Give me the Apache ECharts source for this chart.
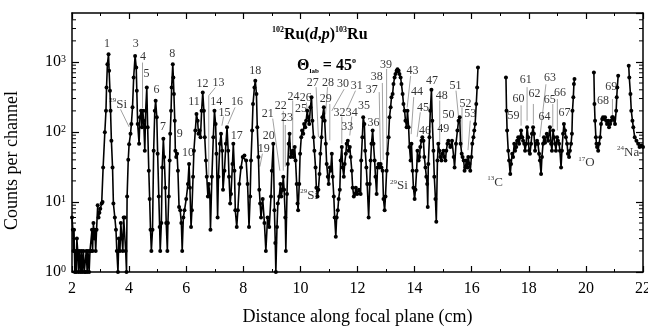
<!DOCTYPE html>
<html>
<head>
<meta charset="utf-8">
<script src="https://cdn.jsdelivr.net/npm/echarts@6/dist/echarts.min.js"></script>
<style>
  html, body { margin: 0; padding: 0; background: #fff; }
  #chart { width: 648px; height: 331px; }
</style>
</head>
<body>
<div id="chart"></div>
<script>
// spectrum: [distance (cm), counts]
const seg1 = [
  [2.00,6],[2.03,4],[2.05,2],[2.07,4],[2.10,1],[2.12,2],[2.15,1],[2.17,3],[2.20,2],[2.23,1],[2.26,2],[2.30,1],
  [2.33,2],[2.36,1],[2.40,2],[2.43,1],[2.47,1],[2.50,2],[2.53,1],[2.56,2],[2.60,1],[2.63,2],[2.66,2],[2.70,4],
  [2.72,2],[2.75,5],[2.78,3],[2.80,4],[2.83,2],[2.86,4],[2.90,9],[2.93,6],[2.96,7],[2.99,8],[3.04,9.5],[3.07,10],
  [3.09,31],[3.15,99],[3.19,201],[3.21,433],[3.24,930],[3.28,1290],[3.30,747],[3.33,388],[3.35,201],[3.38,75],
  [3.42,31],[3.45,9.5],[3.50,6],[3.54,4],[3.57,2],[3.61,1],[3.64,3],[3.68,2],[3.71,5],[3.75,3],[3.78,2],[3.81,6],
  [3.85,6],[3.88,2],[3.91,1],[3.93,12],[3.97,40],[4.00,67],[4.05,94],[4.08,130],[4.12,225],[4.16,600],[4.21,1220],
  [4.25,834],[4.27,388],[4.30,130],[4.35,68],[4.38,162],[4.42,201],[4.45,117],[4.48,201],[4.51,145],[4.55,54],
  [4.58,201],[4.62,433],[4.65,117],[4.69,28],[4.72,11],[4.75,4],[4.78,2],[4.82,4],[4.86,54],[4.90,201],[4.93,280],
  [4.97,162],[5.00,49],[5.04,12],[5.07,4.4],[5.09,2],[5.13,5],[5.16,31],[5.20,80],[5.23,44],[5.27,16],[5.30,5],
  [5.34,2],[5.36,5],[5.39,12],[5.42,39],[5.44,94],[5.47,201],[5.49,433],[5.53,930],[5.55,600],[5.57,348],[5.60,145],
  [5.62,54],[5.65,44],[5.68,49],[5.71,28],[5.75,8.5],[5.79,7.6],[5.83,5],[5.86,2],[5.90,6],[5.94,7.6],[6.00,11],
  [6.06,18],[6.10,35],[6.13,16],[6.17,4.4],[6.20,7.6],[6.24,23],[6.27,54],[6.32,105],[6.36,181],[6.40,145],[6.43,94],
  [6.47,105],[6.50,84],[6.54,201],[6.58,367],[6.62,201],[6.65,84],[6.69,39],[6.72,23],[6.76,12],[6.79,18],[6.83,12],
  [6.85,4],[6.90,23],[6.95,84],[6.99,201],[7.03,130],[7.06,49],[7.10,6],[7.13,23],[7.18,68],[7.22,94],[7.26,54],
  [7.29,15],[7.34,28],[7.39,68],[7.43,117],[7.47,54],[7.50,23],[7.54,9.5],[7.57,13],[7.62,35],[7.65,68],[7.69,28],
  [7.72,7.6],[7.77,4.4],[7.81,7.6],[7.86,18],[7.92,31],[7.98,44],[8.04,46],[8.10,39],[8.15,18],[8.20,4.4],[8.24,12],
  [8.27,39],[8.31,105],[8.34,251],[8.39,433],[8.42,538],[8.46,348],[8.49,117],[8.53,44],[8.56,15],[8.59,9.5],
  [8.62,6],[8.68,11],[8.74,5],[8.79,2],[8.85,6],[8.91,4.4],[8.97,12],[9.00,28],[9.05,68],[9.09,7.6],[9.12,2.6],
  [9.14,1],[9.18,4.4],[9.21,9.5],[9.26,12],[9.30,18],[9.33,12],[9.37,15],[9.40,23],[9.43,15],[9.47,6],[9.49,2],
  [9.53,13],[9.56,35],[9.59,68],[9.62,94],[9.66,44],[9.69,49],[9.73,54],[9.76,44],[9.80,61],[9.83,39],[9.87,18],
  [9.90,9.5],[9.92,7.6],[9.96,18],[9.99,49],[10.03,84],[10.06,105],[10.10,94],[10.13,130],[10.17,117],[10.20,145],
  [10.24,201],[10.27,162],[10.31,130],[10.35,225],[10.39,312],[10.42,145],[10.46,84],[10.49,54],[10.53,31],
  [10.56,16],[10.60,12],[10.63,15],[10.67,25],[10.70,49],[10.74,84],[10.77,162],[10.82,225],[10.85,145],[10.89,68],
  [10.92,35],[10.96,23],[10.99,18],[11.03,31],[11.06,28],[11.10,49],[11.13,23],[11.17,12],[11.20,6],[11.24,3.2],
  [11.27,6],[11.31,7.6],[11.34,11],[11.38,15],[11.41,39],[11.45,61],[11.48,31],[11.52,23],[11.55,35],[11.59,49],
  [11.62,68],[11.66,75],[11.69,54],[11.73,61],[11.76,44],[11.80,28],[11.83,16],[11.87,12],[11.91,13],[11.94,16],
  [11.99,13],[12.05,15],[12.11,13],[12.13,39],[12.17,84],[12.20,162],[12.24,130],[12.27,54],[12.31,31],[12.34,18],
  [12.39,6],[12.43,18],[12.46,39],[12.49,68],[12.53,105],[12.56,68],[12.60,39],[12.63,23],[12.67,13],[12.70,31],
  [12.74,35],[12.77,31],[12.81,35],[12.84,31],[12.88,28],[12.91,11],[12.95,7.6],[12.98,12],[13.02,28],[13.05,49],
  [13.09,84],[13.12,162],[13.16,225],[13.19,312],[13.23,348],[13.26,483],[13.30,600],[13.33,670],[13.37,747],
  [13.40,789],[13.44,747],[13.47,670],[13.51,600],[13.54,483],[13.58,348],[13.61,251],[13.65,201],[13.68,145],
  [13.72,117],[13.75,201],[13.79,117],[13.82,61],[13.86,39],[13.89,68],[13.93,28],[13.96,16],[14.00,11],[14.03,15],
  [14.07,28],[14.10,54],[14.14,39],[14.17,44],[14.20,61],[14.24,75],[14.27,84],[14.31,75],[14.34,44],[14.38,31],
  [14.41,23],[14.44,18],[14.46,8.5],[14.48,35],[14.52,84],[14.55,201],[14.59,400],[14.62,145],[14.66,54],[14.69,23],
  [14.73,11],[14.76,5.2],[14.80,39],[14.83,68],[14.87,54],[14.90,44],[14.94,39],[14.97,49],[15.01,54],[15.04,44],
  [15.08,39],[15.11,54],[15.15,68],[15.18,75],[15.25,61],[15.31,75],[15.37,44],[15.40,31],[15.45,68],[15.50,105],
  [15.54,145],[15.58,162],[15.61,68],[15.65,49],[15.68,44],[15.72,39],[15.75,28],[15.78,31],[15.81,39],[15.85,31],
  [15.88,44],[15.92,35],[15.95,28],[15.99,44],[16.02,68],[16.06,84],[16.09,105],[16.12,130],[16.16,251],[16.19,433],
  [16.22,834]
];
const seg2 = [
  [17.20,600],[17.22,201],[17.24,105],[17.28,54],[17.31,39],[17.35,25],[17.38,35],[17.42,49],[17.45,44],[17.49,68],
  [17.52,54],[17.56,61],[17.59,75],[17.63,84],[17.66,68],[17.70,84],[17.73,105],[17.77,84],[17.80,75],[17.84,68],
  [17.87,54],[17.91,68],[17.94,117],[17.98,84],[18.01,54],[18.04,49],[18.08,68],[18.11,94],[18.15,117],[18.18,94],
  [18.22,54],[18.25,68],[18.29,75],[18.32,68],[18.36,49],[18.39,39],[18.43,25],[18.46,44],[18.50,68],[18.53,84],
  [18.57,70],[18.63,94],[18.68,75],[18.74,117],[18.78,68],[18.81,54],[18.85,105],[18.88,84],[18.92,68],[18.95,54],
  [18.99,84],[19.02,75],[19.06,68],[19.09,54],[19.13,31],[19.16,54],[19.20,94],[19.23,130],[19.27,105],[19.30,84],
  [19.34,68],[19.37,49],[19.41,44],[19.44,54],[19.48,68],[19.51,94],[19.53,201],[19.56,312],[19.58,483],[19.60,569]
];
const seg3 = [
  [20.28,707],[20.30,250],[20.32,145],[20.35,84],[20.37,68],[20.39,61],[20.43,54],[20.46,68],[20.50,84],[20.53,130],
  [20.57,153],[20.60,162],[20.64,153],[20.67,162],[20.71,145],[20.74,130],[20.78,145],[20.81,117],[20.85,130],
  [20.88,145],[20.92,162],[20.95,162],[20.99,153],[21.02,130],[21.06,201],[21.08,312],[21.10,433],[21.13,634]
];
const seg4 = [
  [21.50,880],[21.52,600],[21.56,348],[21.59,201],[21.63,145],[21.66,117],[21.71,84],[21.77,75],[21.83,68],
  [21.88,61],[21.94,64],[22.00,61]
];

// peak numbers: [text, x, counts]
const peakLabels = [
  ['1',3.23,1790],['3',4.23,1790],['4',4.49,1180],['5',4.61,680],['6',4.96,400],['7',5.19,117],['8',5.51,1320],
  ['9',5.77,95],['10',6.06,50],['11',6.27,270],['12',6.57,490],['13',7.13,510],['14',7.05,265],['15',7.34,190],
  ['16',7.78,265],['17',7.77,89],['18',8.42,740],['19',8.72,57],['20',8.89,89],['21',8.86,180],['22',9.31,235],
  ['23',9.53,160],['24',9.76,320],['25',10.02,215],['26',10.19,305],['27',10.43,510],['28',10.97,510],['29',10.89,300],
  ['30',11.49,480],['31',11.97,450],['32',11.37,190],['33',11.64,120],['34',11.80,190],['35',12.23,235],['36',12.56,133],
  ['37',12.50,400],['38',12.67,610],['39',13.00,910],['43',13.93,750],['44',14.08,370],['45',14.29,220],['46',14.36,105],
  ['47',14.61,535],['48',14.95,325],['49',15.00,110],['50',15.19,178],['51',15.43,455],['52',15.78,250],['53',15.95,180],
  ['59',17.46,170],['60',17.64,295],['61',17.89,560],['62',18.20,355],['63',18.74,590],['64',18.55,162],['65',18.73,287],
  ['66',19.09,360],['67',19.25,188],['68',20.60,280],['69',20.89,435]
];
// contaminant lines: [mass number, element, x, counts]
const isotopeLabels = [
  ['29','Si',3.62,250],['29','Si',10.31,12.5],['29','Si',13.45,17],['13','C',16.82,19],['17','O',20.02,36],['24','Na',21.48,51]
];
// leader lines from labels to peaks
const leaders = [
  [[3.70,210],[4.0,118]], [[4.47,980],[4.47,220]], [[7.02,430],[6.79,330],[6.79,23]], [[7.31,166],[7.25,123]],
  [[7.71,224],[7.46,129]], [[8.67,49],[8.58,32]], [[9.03,155],[9.28,28]], [[9.40,200],[9.40,28]], [[9.47,126],[9.47,32]],
  [[9.73,282],[9.73,55]], [[10.21,263],[10.24,200]], [[10.55,436],[10.63,85]], [[10.95,436],[10.88,178]],
  [[11.03,251],[11.03,76]], [[11.53,407],[11.10,200]], [[11.93,389],[11.61,200]], [[11.45,165],[11.45,68]],
  [[11.80,166],[11.73,89]], [[12.76,371],[12.81,35]], [[12.87,501],[12.90,40]], [[13.02,794],[13.02,32]],
  [[13.86,631],[13.74,224]], [[13.97,316],[13.88,93]], [[14.20,191],[14.09,85]], [[14.88,282],[14.88,68]],
  [[15.45,389],[15.54,162]], [[15.66,224],[15.66,60]], [[15.95,145],[15.87,55]], [[17.73,240],[17.73,123]],
  [[17.94,437],[17.94,145]], [[18.16,251],[18.16,129]], [[18.60,479],[18.39,85]], [[18.84,251],[18.84,117]],
  [[19.00,295],[19.00,105]], [[20.93,295],[20.93,145]]
];

const yMinorTicks = [2,3,4,5,6,7,8,9,20,30,40,50,60,70,80,90,200,300,400,500,600,700,800,900,2000,3000,4000];

const FONT = '"Liberation Serif", "DejaVu Serif", serif';

const chart = echarts.init(document.getElementById('chart'), null, { renderer: 'canvas' });

function spectrum(data) {
  return {
    type: 'line',
    data: data,
    xAxisIndex: 0,
    yAxisIndex: 0,
    symbol: 'circle',
    symbolSize: 4,
    showAllSymbol: true,
    itemStyle: { color: '#000' },
    lineStyle: { color: '#000', width: 1.6 },
    z: 3,
    silent: true
  };
}

const option = {
  animation: false,
  backgroundColor: '#fff',
  grid: { left: 72, right: 5, top: 13, bottom: 59, outerBoundsMode: 'none' },
  xAxis: [
    {
      type: 'value', min: 2, max: 22, interval: 2, position: 'bottom',
      axisLine: { onZero: false, lineStyle: { color: '#000', width: 1.5 } },
      axisTick: { inside: true, length: 6, lineStyle: { color: '#000', width: 1.2 } },
      minorTick: { show: true, splitNumber: 2, length: 3, lineStyle: { color: '#000', width: 1 } },
      splitLine: { show: false },
      axisLabel: { color: '#000', fontFamily: FONT, fontSize: 16, margin: 9 },
      name: 'Distance along focal plane (cm)', nameLocation: 'middle', nameGap: 36,
      nameTextStyle: { color: '#000', fontFamily: FONT, fontSize: 18 }
    },
    {
      type: 'value', min: 2, max: 22, interval: 2, position: 'top',
      axisLine: { onZero: false, lineStyle: { color: '#000', width: 1.5 } },
      axisTick: { inside: true, length: 6, lineStyle: { color: '#000', width: 1.2 } },
      minorTick: { show: true, splitNumber: 2, length: 3, lineStyle: { color: '#000', width: 1 } },
      splitLine: { show: false },
      axisLabel: { show: false }
    }
  ],
  yAxis: [
    {
      type: 'log', logBase: 10, min: 1, max: 5000, position: 'left',
      axisLine: { onZero: false, lineStyle: { color: '#000', width: 1.5 } },
      axisTick: { inside: true, length: 7, lineStyle: { color: '#000', width: 1.2 } },
      splitLine: { show: false },
      axisLabel: {
        showMaxLabel: false, margin: 6, color: '#000', fontFamily: FONT, fontSize: 16,
        formatter: function (v) {
          const e = Math.round(Math.log10(v));
          if (Math.abs(v - Math.pow(10, e)) > 1e-6 * v) return '';
          return '10{sup|' + e + '}';
        },
        rich: {
          sup: { fontFamily: FONT, fontSize: 10, color: '#000', verticalAlign: 'top', lineHeight: 10 }
        }
      },
      name: 'Counts per channel', nameLocation: 'middle', nameGap: 51, nameRotate: 90,
      nameTextStyle: { color: '#000', fontFamily: FONT, fontSize: 18, padding: [0, 0, 0, -36] }
    },
    {
      type: 'log', logBase: 10, min: 1, max: 5000, position: 'right',
      axisLine: { onZero: false, lineStyle: { color: '#000', width: 1.5 } },
      axisTick: { inside: true, length: 7, lineStyle: { color: '#000', width: 1.2 } },
      splitLine: { show: false },
      axisLabel: { show: false }
    }
  ],
  title: [
    {
      text: '{s|102}{b|Ru(}{i|d}{b|,}{i|p}{b|)}{s|103}{b|Ru}',
      left: 267, top: 21,
      textStyle: {
        rich: {
          s: { fontFamily: FONT, fontSize: 8, color: '#000', verticalAlign: 'top', lineHeight: 8 },
          b: { fontFamily: FONT, fontSize: 16, fontWeight: 'bold', color: '#000', lineHeight: 18 },
          i: { fontFamily: FONT, fontSize: 16, fontStyle: 'italic', color: '#000', lineHeight: 18 }
        }
      }
    },
    {
      text: '{t|\u0398}{l|lab}{t| = 45}{s|o}',
      left: 292, top: 52,
      textStyle: {
        rich: {
          t: { fontFamily: FONT, fontSize: 16, color: '#000', lineHeight: 18 },
          l: { fontFamily: FONT, fontSize: 7, color: '#000', verticalAlign: 'bottom', lineHeight: 7 },
          s: { fontFamily: FONT, fontSize: 8, color: '#000', verticalAlign: 'top', lineHeight: 8 }
        }
      }
    }
  ],
  series: [
    spectrum(seg1), spectrum(seg2), spectrum(seg3), spectrum(seg4),
    {
      type: 'lines', coordinateSystem: 'cartesian2d', xAxisIndex: 0, yAxisIndex: 0,
      polyline: true, silent: true, z: 2,
      lineStyle: { color: '#8a8a8a', width: 0.8, opacity: 1 },
      data: leaders.map(function (c) { return { coords: c }; })
    },
    {
      type: 'scatter', xAxisIndex: 0, yAxisIndex: 0, symbolSize: 0, silent: true, z: 4,
      data: peakLabels.map(function (p) { return { name: p[0], value: [p[1], p[2]] }; }),
      label: { show: true, position: 'inside', formatter: '{b}', color: '#000', fontFamily: FONT, fontSize: 12 }
    },
    {
      type: 'scatter', xAxisIndex: 0, yAxisIndex: 0, symbolSize: 0, silent: true, z: 4,
      data: isotopeLabels.map(function (p) { return { name: p[0] + '|' + p[1], value: [p[2], p[3]] }; }),
      label: {
        show: true, position: 'inside', color: '#000',
        formatter: function (p) {
          const parts = p.name.split('|');
          return '{s|' + parts[0] + '}{e|' + parts[1] + '}';
        },
        rich: {
          s: { fontFamily: FONT, fontSize: 7, color: '#000', verticalAlign: 'top', lineHeight: 7 },
          e: { fontFamily: FONT, fontSize: 13, color: '#000', lineHeight: 15 }
        }
      }
    },
    {
      // log minor ticks on the left and right frame
      type: 'custom', xAxisIndex: 0, yAxisIndex: 0, silent: true, clip: false, z: 5,
      data: yMinorTicks.map(function (v) { return [2, v]; }),
      encode: { x: 0, y: 1 },
      renderItem: function (params, api) {
        const y = api.coord([2, api.value(1)])[1];
        const cs = params.coordSys;
        const st = { stroke: '#000', lineWidth: 1 };
        return {
          type: 'group',
          children: [
            { type: 'line', shape: { x1: cs.x, y1: y, x2: cs.x + 4, y2: y }, style: st },
            { type: 'line', shape: { x1: cs.x + cs.width - 4, y1: y, x2: cs.x + cs.width, y2: y }, style: st }
          ]
        };
      }
    }
  ]
};

chart.setOption(option);
</script>
</body>
</html>
